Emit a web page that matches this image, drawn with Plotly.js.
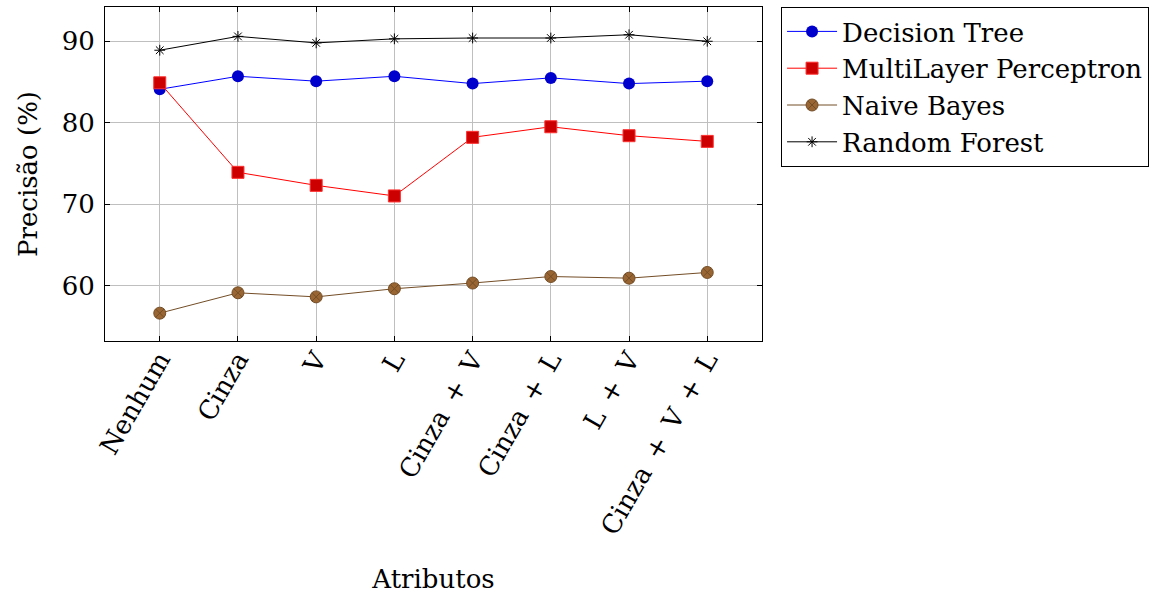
<!DOCTYPE html>
<html>
<head>
<meta charset="utf-8">
<script src="https://cdn.plot.ly/plotly-3.0.1.min.js"></script>
<style>html,body{margin:0;padding:0;background:#fff;}#chart{width:1165px;height:594px;}</style>
</head>
<body>
<div id="chart"></div>
<script>
const categories = ["Nenhum", "Cinza", "V", "L", "Cinza + V", "Cinza + L", "L + V", "Cinza + V + L"];
const decisionTree = [84.1, 85.7, 85.1, 85.7, 84.8, 85.5, 84.8, 85.1];
const multiLayerPerceptron = [84.9, 73.9, 72.3, 71.0, 78.2, 79.5, 78.4, 77.7];
const naiveBayes = [56.6, 59.1, 58.6, 59.6, 60.3, 61.1, 60.9, 61.6];
const randomForest = [88.9, 90.6, 89.8, 90.3, 90.4, 90.4, 90.8, 90.0];
const yTicks = [60, 70, 80, 90];

const xIdx = categories.map((c, i) => i);
// wider spacing around "+" as in the typeset original
const tickText = categories.map(c => c.split(" + ").join("\u2002+\u2002"));
const font = "DejaVu Serif";
const fs = 26;

const traces = [
  {name: "Decision Tree", x: xIdx, y: decisionTree, mode: "lines+markers", type: "scatter",
   line: {color: "#0000ff", width: 1},
   marker: {symbol: "circle", size: 12, color: "#0000cc", line: {color: "#0000ff", width: 0}}},
  {name: "MultiLayer Perceptron", x: xIdx, y: multiLayerPerceptron, mode: "lines+markers", type: "scatter",
   line: {color: "#ff0000", width: 1},
   marker: {symbol: "square", size: 12, color: "#cc0000", line: {color: "#ff3030", width: 1}}},
  {name: "Naive Bayes", x: xIdx, y: naiveBayes, mode: "lines+markers", type: "scatter",
   line: {color: "#734d26", width: 1},
   marker: {symbol: "circle-x", size: 12, color: "#996633", line: {color: "#734d26", width: 1}}},
  {name: "Random Forest", x: xIdx, y: randomForest, mode: "lines+markers", type: "scatter",
   line: {color: "#000000", width: 1},
   marker: {symbol: "asterisk-open", size: 9, color: "#000000", line: {color: "#000000", width: 1}}}
];

const layout = {
  width: 1165, height: 594,
  margin: {l: 105, r: 403, t: 7, b: 253},
  paper_bgcolor: "#ffffff", plot_bgcolor: "#ffffff",
  font: {family: font, size: fs, color: "#000"},
  showlegend: true,
  legend: {x: 1.029, y: 1, xanchor: "left", yanchor: "top",
           bordercolor: "#000", borderwidth: 1, bgcolor: "#fff",
           font: {family: font, size: fs, color: "#000"}, tracegroupgap: 0, itemwidth: 50},
  xaxis: {
    range: [-0.7, 7.7], tickmode: "array", tickvals: xIdx, ticktext: tickText,
    tickangle: -60, showgrid: true, gridcolor: "#bfbfbf", gridwidth: 1,
    showline: true, mirror: "ticks", linecolor: "#000", linewidth: 1,
    ticks: "inside", ticklen: 5, tickcolor: "#000", zeroline: false,
    ticklabelstandoff: -8,
    tickfont: {family: font, size: fs},
    title: {text: "Atributos", font: {family: font, size: fs}, standoff: 30}
  },
  yaxis: {
    range: [53.18, 94.21], tickmode: "array", tickvals: yTicks,
    showgrid: true, gridcolor: "#bfbfbf", gridwidth: 1,
    showline: true, mirror: "ticks", linecolor: "#000", linewidth: 1,
    ticks: "inside", ticklen: 5, tickcolor: "#000", zeroline: false,
    ticklabelstandoff: 4,
    tickfont: {family: font, size: fs},
    title: {text: "Precisão (%)", font: {family: font, size: fs}, standoff: 16}
  }
};

Plotly.newPlot("chart", traces, layout, {displayModeBar: false, staticPlot: true});
</script>
</body>
</html>
